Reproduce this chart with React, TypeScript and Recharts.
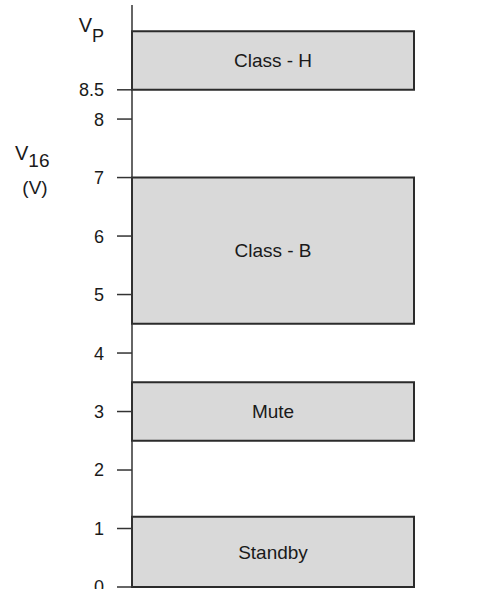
import { BarChart, Bar, XAxis, YAxis, LabelList } from 'recharts';

// operating windows of V16 (V), as [low, high]
const STANDBY = [0, 1.2];
const MUTE = [2.5, 3.5];
const CLASS_B = [4.5, 7];
const CLASS_H = [8.5, 9.5];

const MODES = [
  { key: 'standby', name: 'Standby' },
  { key: 'mute', name: 'Mute' },
  { key: 'classB', name: 'Class - B' },
  { key: 'classH', name: 'Class - H' },
];

const Y_TICKS = [0, 1, 2, 3, 4, 5, 6, 7, 8, 8.5, 9.5];
const VP_LEVEL = 9.5;

const data = [{ slot: 'V16', standby: STANDBY, mute: MUTE, classB: CLASS_B, classH: CLASS_H }];

const TICK_SIZE = 15;
const TICK_MARGIN = 13;
const INK = '#1a1a1a';

const VoltTick = (props: any) => {
  const { x, y, payload } = props;
  if (payload.value === VP_LEVEL) {
    return (
      <text x={x} y={y} textAnchor="end" fill={INK}>
        <tspan fontSize={20} dy={1}>V</tspan>
        <tspan fontSize={18} dy={10}>P</tspan>
      </text>
    );
  }
  return (
    <g>
      <line x1={x + TICK_MARGIN} x2={x + TICK_MARGIN + TICK_SIZE} y1={y} y2={y} stroke="#333" strokeWidth={1.5} />
      <text x={x} y={y} dy="0.36em" textAnchor="end" fontSize={18} fill={INK}>
        {payload.value}
      </text>
    </g>
  );
};

const AxisTitle = () => (
  <g fill={INK}>
    <text x={15} y={160}>
      <tspan fontSize={20}>V</tspan>
      <tspan fontSize={19} dy={7}>16</tspan>
    </text>
    <text x={35} y={194} textAnchor="middle" fontSize={19}>(V)</text>
  </g>
);

export default function App() {
  return (
    <div
      style={{
        position: 'absolute',
        left: 0,
        top: 0,
        width: 486,
        height: 589,
        background: '#fff',
        fontFamily: '"Liberation Sans", Arial, sans-serif',
      }}
    >
      <BarChart width={486} height={589} data={data} margin={{ top: 5, right: 9, bottom: 2, left: 0 }} barCategoryGap={0}>
        {MODES.map((m, i) => (
          <XAxis
            key={m.key}
            xAxisId={m.key}
            dataKey="slot"
            hide={i > 0}
            height={0}
            tick={false}
            tickLine={false}
            padding={{ left: 0, right: 63 }}
            axisLine={{ stroke: '#333', strokeWidth: 1.5 }}
          />
        ))}
        <YAxis
          width={132}
          type="number"
          domain={[0, 9.95]}
          ticks={Y_TICKS}
          interval={0}
          tickSize={TICK_SIZE}
          tickMargin={TICK_MARGIN}
          tickLine={false}
          tick={<VoltTick />}
          axisLine={{ stroke: '#333', strokeWidth: 1.5 }}
          label={<AxisTitle />}
        />
        {MODES.map((m) => (
          <Bar
            key={m.key}
            dataKey={m.key}
            xAxisId={m.key}
            fill="#d9d9d9"
            stroke="#2b2b2b"
            strokeWidth={2}
            isAnimationActive={false}
          >
            <LabelList position="center" formatter={() => m.name} fill={INK} fontSize={19} />
          </Bar>
        ))}
      </BarChart>
    </div>
  );
}
